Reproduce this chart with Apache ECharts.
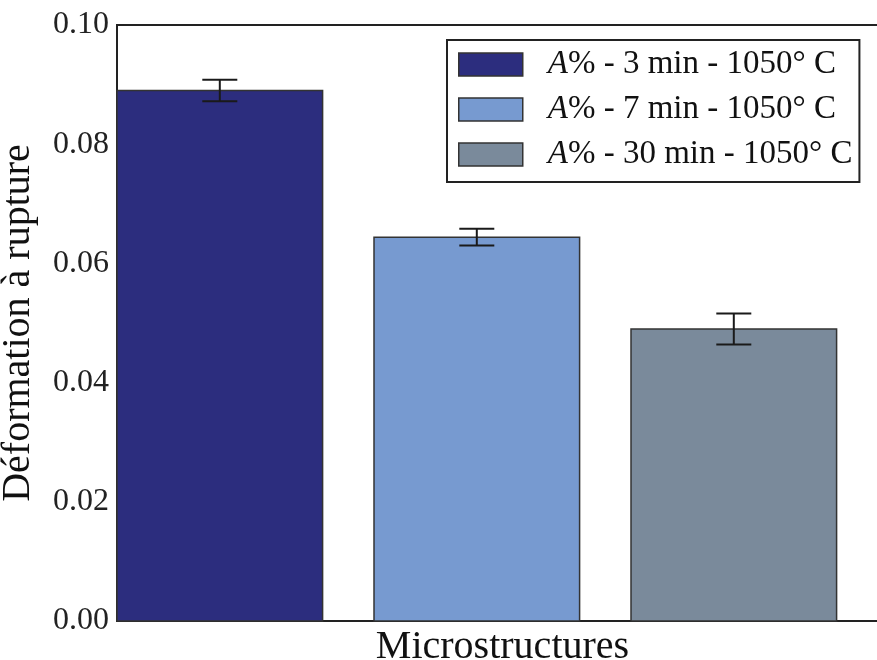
<!DOCTYPE html>
<html><head><meta charset="utf-8">
<script src="https://cdn.jsdelivr.net/npm/echarts@6/dist/echarts.min.js"></script>
<style>html,body{margin:0;padding:0;background:#fff}#c{width:877px;height:660px}</style>
</head><body><div id="c"></div>
<script>
var seriesNames = ['3 min - 1050° C', '7 min - 1050° C', '30 min - 1050° C'];
var positions = [0, 1, 2];
var values = [0.0890, 0.0644, 0.0490];
var errors = [0.0018, 0.0014, 0.0026];
var colors = ['#2c2d7e', '#779ad0', '#7a8a9b'];
var yTicks = [0, 0.02, 0.04, 0.06, 0.08, 0.10];

var FONT = 'Liberation Serif';
var BAR_W = 0.8;

function renderBar(params, api) {
  var x = api.value(0), v = api.value(1), e = api.value(2);
  var p0 = api.coord([x, v]);
  var p1 = api.coord([x + BAR_W, 0]);
  var c = api.coord([x + BAR_W / 2, v]);
  var hi = api.coord([x + BAR_W / 2, v + e]);
  var lo = api.coord([x + BAR_W / 2, v - e]);
  var cap = 17.5;
  var lineStyle = {stroke: '#1a1a1a', lineWidth: 2};
  return {
    type: 'group',
    children: [
      {type: 'rect', shape: {x: p0[0], y: p0[1], width: p1[0] - p0[0], height: p1[1] - p0[1]},
       style: {fill: api.visual('color'), stroke: '#333333', lineWidth: 1.5}},
      {type: 'line', shape: {x1: c[0], y1: hi[1], x2: c[0], y2: lo[1]}, style: lineStyle},
      {type: 'line', shape: {x1: c[0] - cap, y1: hi[1], x2: c[0] + cap, y2: hi[1]}, style: lineStyle},
      {type: 'line', shape: {x1: c[0] - cap, y1: lo[1], x2: c[0] + cap, y2: lo[1]}, style: lineStyle}
    ]
  };
}

var series = seriesNames.map(function (n, i) {
  return {
    type: 'custom',
    name: 'A% - ' + n,
    renderItem: renderBar,
    itemStyle: {color: colors[i]},
    data: [[positions[i], values[i], errors[i]]],
    encode: {x: 0, y: 1},
    clip: false
  };
});

var chart = echarts.init(document.getElementById('c'), null, {renderer: 'canvas'});
chart.setOption({
  animation: false,
  backgroundColor: '#fff',
  grid: {left: 117, top: 25, width: 771, height: 596, outerBoundsMode: 'none', containLabel: false,
         show: true, borderColor: '#222', borderWidth: 2, backgroundColor: 'transparent'},
  xAxis: {
    type: 'value', min: 0, max: 3,
    name: 'Microstructures', nameLocation: 'middle', nameGap: 6,
    nameTextStyle: {fontFamily: FONT, fontSize: 40, color: '#111'},
    axisLine: {show: false}, axisTick: {show: false}, axisLabel: {show: false}, splitLine: {show: false}
  },
  yAxis: {
    type: 'value', min: yTicks[0], max: yTicks[yTicks.length - 1], interval: 0.02,
    name: 'Déformation à rupture', nameLocation: 'middle', nameGap: 79,
    nameTextStyle: {fontFamily: FONT, fontSize: 40, color: '#111'},
    axisLine: {show: false},
    axisTick: {show: true, inside: true, length: 7, lineStyle: {color: '#222', width: 1.5}},
    axisLabel: {fontFamily: FONT, fontSize: 32, color: '#222', margin: 8, formatter: function (v) { return v.toFixed(2); }},
    splitLine: {show: false}
  },
  legend: {
    orient: 'vertical', left: 447, top: 40,
    padding: [8, 7, 11, 11],
    itemWidth: 64, itemHeight: 23, itemGap: 12,
    borderColor: '#222', borderWidth: 2, backgroundColor: '#fff',
    icon: 'rect',
    data: series.map(function (s, i) {
      return {name: s.name, itemStyle: {color: colors[i], borderColor: '#333', borderWidth: 1.5}};
    }),
    formatter: function (name) {
      return '{s|}{i|A}{n|' + name.slice(1) + '}';
    },
    textStyle: {
      fontFamily: FONT, fontSize: 33, color: '#111',
      rich: {
        s: {width: 20, fontSize: 33},
        i: {fontStyle: 'italic', fontFamily: FONT, fontSize: 33, color: '#111'},
        n: {fontFamily: FONT, fontSize: 33, color: '#111'}
      }
    }
  },
  series: series
});
</script>
</body></html>
